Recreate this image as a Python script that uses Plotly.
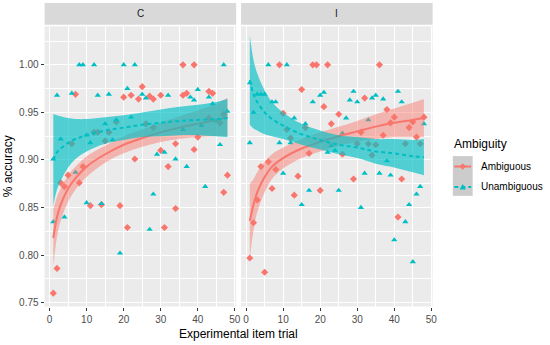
import plotly.graph_objects as go

# ---------------- data ----------------
# Panel C
c_amb_trial = [1, 2, 3, 4, 5, 6, 7, 8, 9, 11, 12, 13, 14, 15, 16, 18, 19, 20, 21, 22,
               23, 24, 25, 26, 27, 28, 28, 30, 30, 31, 32, 34, 34, 36, 36, 37, 39, 39, 40, 43,
               43, 44, 46, 47, 47, 48]
c_amb_acc = [0.760, 0.786, 0.876, 0.872, 0.884, 0.917, 0.969, 0.876, 0.893, 0.852,
             0.929, 0.929, 0.853, 0.920, 0.929, 0.940, 0.852, 0.966, 0.829, 0.968,
             0.901, 0.964, 0.977, 0.938, 0.967, 0.964, 0.934, 0.968, 0.910, 0.829,
             0.893, 0.849, 0.917, 1.000, 0.968, 0.970, 1.000, 0.911, 0.924, 0.972,
             0.944, 0.970, 0.939, 0.948, 0.866, 0.884]
c_una_trial = [1, 1, 2, 3, 4, 6, 7, 8, 9, 10, 10, 11, 12, 13, 14, 15, 16, 17, 18, 19,
               20, 21, 22, 23, 25, 26, 27, 28, 29, 31, 32, 34, 36, 37, 38, 39, 40, 41, 42, 43,
               44, 45, 46, 47, 48]
c_una_acc = [0.901, 0.835, 0.968, 0.922, 0.840, 0.970, 0.887, 1.000, 1.000, 0.926,
             0.855, 0.918, 1.000, 0.968, 0.854, 0.938, 0.969, 0.921, 0.942, 0.802,
             1.000, 0.975, 0.945, 1.000, 0.969, 0.965, 0.827, 0.864, 0.906, 0.908,
             0.968, 0.901, 0.932, 0.893, 0.966, 0.963, 0.974, 0.936, 0.872, 0.966,
             0.959, 0.941, 0.916, 1.000, 0.951]

# Panel I
i_amb_trial = [1, 2, 3, 4, 5, 6, 7, 8, 9, 10, 11, 12, 13, 14, 15, 16, 17, 18, 19, 20,
               21, 22, 23, 25, 26, 29, 30, 31, 32, 33, 34, 35, 36, 37, 38, 39, 40, 41, 42, 43,
               44, 45, 46, 47, 48]
i_amb_acc = [0.797, 0.834, 0.858, 0.893, 0.782, 0.898, 0.870, 0.890, 1.000, 0.949,
             0.932, 0.923, 0.863, 0.883, 0.974, 0.934, 0.907, 1.000, 1.000, 0.868,
             0.956, 1.000, 0.938, 0.948, 0.906, 0.880, 0.917, 0.929, 0.965, 0.917,
             0.905, 0.916, 1.000, 0.926, 0.953, 0.939, 0.945, 0.840, 0.880, 0.917,
             0.934, 0.940, 0.924, 0.917, 0.945]
i_una_trial = [1, 1, 2, 3, 4, 5, 6, 7, 8, 9, 10, 11, 12, 13, 15, 16, 17, 18, 20, 21,
               22, 23, 24, 25, 26, 27, 28, 29, 30, 31, 32, 33, 34, 35, 36, 37, 38, 39, 40, 41,
               42, 43, 44, 45, 46, 47, 48]
i_una_acc = [0.981, 0.918, 0.950, 0.969, 0.969, 0.969, 1.000, 0.961, 0.961, 0.918,
             0.886, 1.000, 0.918, 0.944, 0.853, 0.938, 0.868, 0.961, 0.968, 0.971,
             0.908, 0.915, 0.910, 0.868, 0.928, 0.944, 0.963, 0.972, 0.961, 0.850,
             0.886, 0.942, 0.965, 0.968, 0.886, 0.964, 0.899, 0.884, 0.816, 0.972,
             0.961, 0.835, 0.853, 0.793, 0.864, 0.872, 0.938]

# smooth curves (fit, lower, upper)
fit_trial = [1, 2, 3, 5, 7, 10, 15, 20, 25, 30, 35, 40, 45, 48]
c_amb_fit = [0.818, 0.840, 0.853, 0.870, 0.881, 0.893, 0.906, 0.916, 0.923, 0.929, 0.934, 0.938, 0.942, 0.945]
c_amb_lo = [0.788, 0.819, 0.836, 0.856, 0.869, 0.882, 0.897, 0.907, 0.914, 0.919, 0.922, 0.924, 0.925, 0.925]
c_amb_hi = [0.848, 0.861, 0.870, 0.884, 0.893, 0.904, 0.915, 0.925, 0.932, 0.939, 0.946, 0.952, 0.959, 0.965]
c_una_fit = [0.900, 0.908, 0.912, 0.918, 0.922, 0.926, 0.931, 0.934, 0.937, 0.939, 0.941, 0.942, 0.943, 0.944]
c_una_lo = [0.852, 0.869, 0.878, 0.892, 0.901, 0.909, 0.917, 0.921, 0.924, 0.925, 0.926, 0.926, 0.925, 0.924]
c_una_hi = [0.948, 0.947, 0.946, 0.944, 0.943, 0.943, 0.945, 0.947, 0.950, 0.953, 0.956, 0.958, 0.961, 0.964]
i_amb_fit = [0.836, 0.853, 0.866, 0.882, 0.893, 0.902, 0.912, 0.919, 0.925, 0.930, 0.935, 0.939, 0.942, 0.944]
i_amb_lo = [0.797, 0.826, 0.845, 0.866, 0.880, 0.891, 0.902, 0.909, 0.915, 0.919, 0.922, 0.924, 0.924, 0.924]
i_amb_hi = [0.875, 0.880, 0.887, 0.898, 0.906, 0.913, 0.922, 0.929, 0.935, 0.941, 0.948, 0.954, 0.960, 0.964]
i_una_fit = [0.984, 0.969, 0.961, 0.950, 0.943, 0.936, 0.927, 0.921, 0.916, 0.913, 0.909, 0.907, 0.904, 0.903]
i_una_lo = [0.937, 0.933, 0.931, 0.927, 0.925, 0.922, 0.916, 0.911, 0.906, 0.902, 0.896, 0.892, 0.887, 0.884]
i_una_hi = [1.031, 1.005, 0.991, 0.973, 0.961, 0.950, 0.938, 0.931, 0.926, 0.924, 0.922, 0.922, 0.921, 0.922]

panels = ["C", "I"]
groups = ["Ambiguous", "Unambiguous"]
x_ticks = [0, 10, 20, 30, 40, 50]
y_ticks = [0.75, 0.80, 0.85, 0.90, 0.95, 1.00]

# ---------------- styling ----------------
W, H = 550, 345
RED = "#F8766D"
TEAL = "#00BFC4"
RED_FILL = "rgba(248,118,109,0.47)"
TEAL_FILL = "rgba(0,191,196,0.66)"
FONT = "Liberation Sans, Arial, sans-serif"

def fx(p):
    return p / W

def fy(p):
    return 1 - p / H

x_dom = [[fx(45), fx(238.3)], [fx(243.3), fx(436.6)]]
y_dom = [fy(308.3), fy(26.5)]

fig = go.Figure()

panel_data = {
    "C": dict(pts=[(c_amb_trial, c_amb_acc), (c_una_trial, c_una_acc)],
              fits=[(c_amb_fit, c_amb_lo, c_amb_hi), (c_una_fit, c_una_lo, c_una_hi)]),
    "I": dict(pts=[(i_amb_trial, i_amb_acc), (i_una_trial, i_una_acc)],
              fits=[(i_amb_fit, i_amb_lo, i_amb_hi), (i_una_fit, i_una_lo, i_una_hi)]),
}
colors = [RED, TEAL]
fills = [RED_FILL, TEAL_FILL]
symbols = ["diamond", "triangle-up"]
msizes = [5.5, 5.5]
dashes = ["solid", "4px,3px"]

for k, p in enumerate(panels):
    xa = "x" if k == 0 else "x2"
    ya = "y" if k == 0 else "y2"
    d = panel_data[p]
    # points first
    for g in range(2):
        xs, ys = d["pts"][g]
        fig.add_trace(go.Scatter(x=xs, y=ys, mode="markers", xaxis=xa, yaxis=ya,
                                 marker=dict(symbol=symbols[g], color=colors[g],
                                             size=msizes[g], line=dict(width=0)),
                                 showlegend=False, hoverinfo="skip"))
    # smooth ribbons + lines (group by group, like ggplot)
    for g in range(2):
        fit, lo, hi = d["fits"][g]
        fig.add_trace(go.Scatter(x=fit_trial, y=lo, mode="lines", xaxis=xa, yaxis=ya,
                                 line=dict(width=0, shape="spline", color=fills[g]),
                                 showlegend=False, hoverinfo="skip"))
        fig.add_trace(go.Scatter(x=fit_trial, y=hi, mode="lines", xaxis=xa, yaxis=ya,
                                 line=dict(width=0, shape="spline", color=fills[g]),
                                 fill="tonexty", fillcolor=fills[g],
                                 showlegend=False, hoverinfo="skip"))
        fig.add_trace(go.Scatter(x=fit_trial, y=fit, mode="lines", xaxis=xa, yaxis=ya,
                                 line=dict(width=2, shape="spline", color=colors[g], dash=dashes[g]),
                                 showlegend=False, hoverinfo="skip"))

axis_common = dict(showline=False, zeroline=False, gridcolor="white", gridwidth=1.1,
                   ticks="outside", ticklen=3, tickcolor="#333333", tickwidth=1,
                   tickfont=dict(family=FONT, size=10, color="#4D4D4D"))

fig.update_layout(
    width=W, height=H,
    margin=dict(l=0, r=0, t=0, b=0),
    paper_bgcolor="white", plot_bgcolor="#EBEBEB",
    font=dict(family=FONT),
    showlegend=False,
    xaxis=dict(domain=x_dom[0], range=[-1.35, 50.35], tickvals=x_ticks, anchor="y",
               minor=dict(dtick=5, showgrid=True, gridcolor="white", gridwidth=0.5, ticks=""),
               **axis_common),
    xaxis2=dict(domain=x_dom[1], range=[-1.35, 50.35], tickvals=x_ticks, anchor="y2",
                minor=dict(dtick=5, showgrid=True, gridcolor="white", gridwidth=0.5, ticks=""),
                **axis_common),
    yaxis=dict(domain=y_dom, range=[0.746, 1.0404], tickvals=y_ticks, tickformat=".2f", anchor="x",
               minor=dict(dtick=0.025, tick0=0.725, showgrid=True, gridcolor="white", gridwidth=0.5, ticks=""),
               **axis_common),
    yaxis2=dict(domain=y_dom, range=[0.746, 1.0404], tickvals=y_ticks, anchor="x2",
                showticklabels=False, ticks="",
                minor=dict(dtick=0.025, tick0=0.725, showgrid=True, gridcolor="white", gridwidth=0.5, ticks=""),
                showline=False, zeroline=False, gridcolor="white", gridwidth=1.1),
)

shapes = []
annotations = []
# strips
for k, p in enumerate(panels):
    shapes.append(dict(type="rect", xref="paper", yref="paper",
                       x0=x_dom[k][0], x1=x_dom[k][1], y0=fy(25), y1=fy(3),
                       fillcolor="#D9D9D9", line=dict(width=0), layer="below"))
    annotations.append(dict(text=p, xref="paper", yref="paper",
                            x=(x_dom[k][0] + x_dom[k][1]) / 2, y=fy(14),
                            showarrow=False, font=dict(family=FONT, size=10, color="#1A1A1A"),
                            xanchor="center", yanchor="middle"))

# axis titles
annotations.append(dict(text="Experimental item trial", xref="paper", yref="paper",
                        x=(x_dom[0][0] + x_dom[1][1]) / 2, y=fy(336), showarrow=False,
                        font=dict(family=FONT, size=12, color="black"),
                        xanchor="center", yanchor="middle"))
annotations.append(dict(text="% accuracy", xref="paper", yref="paper",
                        x=fx(9), y=(y_dom[0] + y_dom[1]) / 2, showarrow=False, textangle=-90,
                        font=dict(family=FONT, size=12, color="black"),
                        xanchor="center", yanchor="middle"))

# legend (custom, ggplot-like)
annotations.append(dict(text="Ambiguity", xref="paper", yref="paper", x=fx(456), y=fy(145),
                        showarrow=False, font=dict(family=FONT, size=12, color="black"),
                        xanchor="left", yanchor="middle"))
shapes.append(dict(type="rect", xref="paper", yref="paper", x0=fx(457), x1=fx(477),
                   y0=fy(197), y1=fy(157), fillcolor="#CCCCCC", line=dict(width=0)))
key_y = [167.5, 188]
for g in range(2):
    shapes.append(dict(type="line", xref="paper", yref="paper", x0=fx(458.5), x1=fx(475.5),
                       y0=fy(key_y[g]), y1=fy(key_y[g]),
                       line=dict(color=colors[g], width=2, dash="solid" if g == 0 else "4px,3px")))
    annotations.append(dict(text=groups[g], xref="paper", yref="paper", x=fx(483.5), y=fy(key_y[g]),
                            showarrow=False, font=dict(family=FONT, size=10, color="black"),
                            xanchor="left", yanchor="middle"))
cx, cy = 467, key_y[0]
shapes.append(dict(type="path", xref="paper", yref="paper",
                   path=f"M {fx(cx)} {fy(cy-3.2)} L {fx(cx+3.2)} {fy(cy)} L {fx(cx)} {fy(cy+3.2)} L {fx(cx-3.2)} {fy(cy)} Z",
                   fillcolor=RED, line=dict(width=0)))
cx, cy = 467, key_y[1]
shapes.append(dict(type="path", xref="paper", yref="paper",
                   path=f"M {fx(cx)} {fy(cy-3)} L {fx(cx+3.2)} {fy(cy+2.5)} L {fx(cx-3.2)} {fy(cy+2.5)} Z",
                   fillcolor=TEAL, line=dict(width=0)))

fig.update_layout(shapes=shapes, annotations=annotations)
fig.write_html("out.html", config={"displayModeBar": False},
               post_script="document.body.style.margin='0';document.body.style.padding='0';")
